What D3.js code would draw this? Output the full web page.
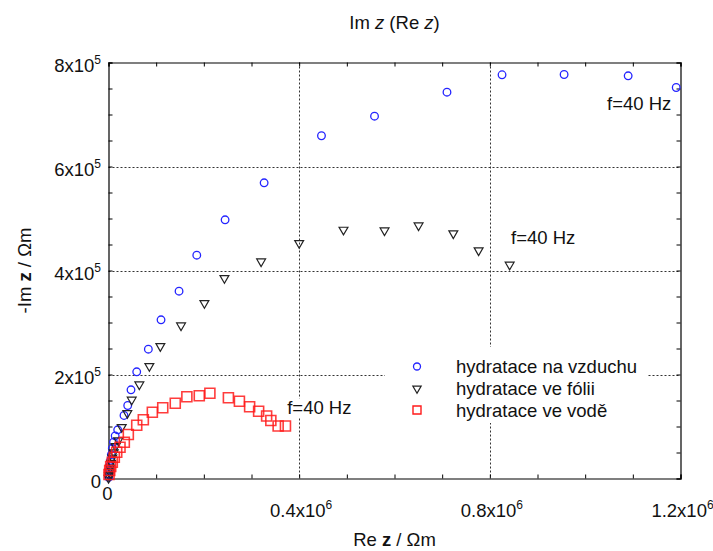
<!DOCTYPE html>
<html>
<head>
<meta charset="utf-8">
<script src="https://cdn.jsdelivr.net/npm/d3@7"></script>
<style>
  html, body { margin: 0; padding: 0; background: #fff; }
  svg text { font-family: "Liberation Sans", Arial, sans-serif; fill: #111; }
</style>
</head>
<body>
<svg id="chart" width="713" height="551"></svg>
<script>
// ---- data ----
const seriesNames = ["hydratace na vzduchu", "hydratace ve fólii", "hydratace ve vodě"];

const airRe = [300, 1000, 2000, 3000, 4500, 6000, 8000, 10500, 14000, 19300, 32500, 40300, 47200, 59200, 83600, 110200, 148000, 185200, 244600, 326500, 446800, 558100, 710100, 825600, 955800, 1090200, 1191000];
const airIm = [2000, 8000, 16000, 25000, 35000, 46000, 58000, 70000, 82000, 93700, 121200, 140400, 170600, 205200, 248700, 305200, 360200, 429400, 497500, 568700, 659100, 696700, 742900, 776400, 776900, 774400, 751900];

const foilRe = [200, 900, 2000, 3500, 5500, 8000, 11000, 15000, 20600, 27700, 39500, 48700, 64700, 85700, 108800, 152200, 201200, 243200, 320200, 400000, 493000, 579100, 650500, 723400, 776500, 841600];
const foilIm = [1000, 6000, 13000, 21000, 30000, 40000, 50000, 62000, 73100, 98700, 125600, 151400, 180800, 216000, 254400, 294200, 337100, 385200, 417300, 452500, 478300, 476900, 486500, 471200, 438500, 411000];

const waterRe = [1050, 2520, 4620, 7980, 12180, 17220, 24150, 33180, 41570, 59210, 73070, 91970, 113800, 140050, 164410, 190440, 212700, 251540, 274640, 296060, 314960, 331750, 340570, 355900, 371230];
const waterIm = [7690, 15380, 23080, 31350, 40960, 50580, 60190, 69810, 84620, 102500, 113080, 127500, 135960, 144810, 157110, 159040, 164040, 155190, 148650, 138080, 129420, 120190, 111540, 100960, 100960];

const xTickValues = [0, 400000, 800000, 1200000];
const xTickBase = ["0", "0.4x10", "0.8x10", "1.2x10"];
const xTickExp = ["", "6", "6", "6"];
const yTickValues = [0, 200000, 400000, 600000, 800000];
const yTickBase = ["0", "2x10", "4x10", "6x10", "8x10"];
const yTickExp = ["", "5", "5", "5", "5"];

const annotText = "f=40 Hz";
const annotRe = [1046000, 844600, 374900];
const annotIm = [707700, 451900, 125000];

// ---- layout ----
const FS = 18.5;
const L = 108.5, R = 680.5, T = 62.5, B = 478.5;
const svg = d3.select("#chart");
const x = d3.scaleLinear().domain([0, 1200000]).range([L, R]);
const y = d3.scaleLinear().domain([0, 800000]).range([B, T]);

// gridlines
const grid = svg.append("g").attr("stroke", "#333").attr("stroke-width", 1).attr("stroke-dasharray", "2,2");
grid.selectAll("line.gx").data(xTickValues.filter(v => v > 0 && v < 1200000)).join("line")
  .attr("x1", d => Math.round(x(d)) + 0.5).attr("x2", d => Math.round(x(d)) + 0.5)
  .attr("y1", T).attr("y2", B);
grid.selectAll("line.gy").data(yTickValues.filter(v => v > 0 && v < 800000)).join("line")
  .attr("y1", d => Math.round(y(d)) + 0.5).attr("y2", d => Math.round(y(d)) + 0.5)
  .attr("x1", L).attr("x2", R);

// axes with inward ticks on all sides
const xMinor = d3.range(0, 1200001, 100000);
const yMinor = d3.range(0, 800001, 50000);
const tickLen = 4;
const axB = svg.append("g").attr("transform", `translate(0,${B})`)
  .call(d3.axisBottom(x).tickValues(xMinor).tickSize(-tickLen).tickFormat(""));
const axT = svg.append("g").attr("transform", `translate(0,${T})`)
  .call(d3.axisTop(x).tickValues(xMinor).tickSize(-tickLen).tickFormat(""));
const axLft = svg.append("g").attr("transform", `translate(${L},0)`)
  .call(d3.axisLeft(y).tickValues(yMinor).tickSize(-tickLen).tickFormat(""));
const axRgt = svg.append("g").attr("transform", `translate(${R},0)`)
  .call(d3.axisRight(y).tickValues(yMinor).tickSize(-tickLen).tickFormat(""));
[axB, axT, axLft, axRgt].forEach(a => {
  a.selectAll("path.domain").attr("stroke", "#000").attr("stroke-width", 1.2);
  a.selectAll(".tick line").attr("stroke", "#000").attr("stroke-width", 1);
});

// tick labels
const yl = svg.append("g").attr("font-size", FS);
yTickValues.forEach((v, i) => {
  const t = yl.append("text").attr("x", 101).attr("y", y(v) + 9.5).attr("text-anchor", "end");
  t.append("tspan").text(yTickBase[i]);
  if (yTickExp[i]) t.append("tspan").attr("dy", -8).attr("font-size", 12).text(yTickExp[i]);
});
const xl = svg.append("g").attr("font-size", FS);
xTickValues.forEach((v, i) => {
  const t = xl.append("text").attr("x", x(v) + (i === 0 ? -1 : 2)).attr("y", i === 0 ? 500 : 517).attr("text-anchor", "middle");
  t.append("tspan").text(xTickBase[i]);
  if (xTickExp[i]) t.append("tspan").attr("dy", -8).attr("font-size", 12).text(xTickExp[i]);
});

// titles
const title = svg.append("text").attr("x", (L + R) / 2).attr("y", 29).attr("text-anchor", "middle").attr("font-size", FS);
title.append("tspan").text("Im ");
title.append("tspan").attr("font-style", "italic").text("z");
title.append("tspan").text(" (Re ");
title.append("tspan").attr("font-style", "italic").text("z");
title.append("tspan").text(")");

const xt = svg.append("text").attr("x", (L + R) / 2).attr("y", 546).attr("text-anchor", "middle").attr("font-size", FS);
xt.append("tspan").text("Re ");
xt.append("tspan").attr("font-weight", "bold").text("z");
xt.append("tspan").text(" / Ωm");

const yt = svg.append("text").attr("transform", `translate(31,${(T + B) / 2}) rotate(-90)`).attr("text-anchor", "middle").attr("font-size", FS);
yt.append("tspan").text("-Im ");
yt.append("tspan").attr("font-weight", "bold").text("z");
yt.append("tspan").text(" / Ωm");

// markers
const triPath = d3.symbol().type(d3.symbolTriangle).size(34)();
const sqPath = d3.symbol().type(d3.symbolSquare).size(100)();

const airPts = airRe.map((v, i) => [v, airIm[i]]);
const foilPts = foilRe.map((v, i) => [v, foilIm[i]]);
const waterPts = waterRe.map((v, i) => [v, waterIm[i]]);

svg.append("g").selectAll("circle").data(airPts).join("circle")
  .attr("cx", d => x(d[0])).attr("cy", d => y(d[1])).attr("r", 3.8)
  .attr("fill", "none").attr("stroke", "#2424ff").attr("stroke-width", 1.3);

svg.append("g").selectAll("path").data(foilPts).join("path")
  .attr("d", triPath)
  .attr("transform", d => `translate(${x(d[0])},${y(d[1])}) rotate(180)`)
  .attr("fill", "none").attr("stroke", "#222").attr("stroke-width", 1.2);

svg.append("g").selectAll("path").data(waterPts).join("path")
  .attr("d", sqPath)
  .attr("transform", d => `translate(${x(d[0])},${y(d[1])})`)
  .attr("fill", "none").attr("stroke", "#ff1a1a").attr("stroke-opacity", 0.85).attr("stroke-width", 1.6);

// annotations
const ann = svg.append("g").attr("font-size", FS);
annotRe.forEach((v, i) => {
  if (i === 2) {
    ann.append("rect").attr("x", x(v) - 1).attr("y", y(annotIm[i]) - 15).attr("width", 68).attr("height", 19).attr("fill", "#fff");
  }
  ann.append("text").attr("x", x(v)).attr("y", y(annotIm[i])).text(annotText);
});

// legend
const lg = svg.append("g");
lg.append("rect").attr("x", 385).attr("y", 347).attr("width", 263).attr("height", 76).attr("fill", "#fff");
const lgY = [366.5, 388.5, 410];
lg.append("circle").attr("cx", 417).attr("cy", lgY[0]).attr("r", 3.5)
  .attr("fill", "none").attr("stroke", "#2424ff").attr("stroke-width", 1.3);
lg.append("path").attr("d", d3.symbol().type(d3.symbolTriangle).size(30)())
  .attr("transform", `translate(417,${lgY[1]}) rotate(180)`)
  .attr("fill", "none").attr("stroke", "#222").attr("stroke-width", 1.2);
lg.append("path").attr("d", d3.symbol().type(d3.symbolSquare).size(64)())
  .attr("transform", `translate(417,${lgY[2]})`)
  .attr("fill", "none").attr("stroke", "#ff1a1a").attr("stroke-width", 1.4);
seriesNames.forEach((n, i) => {
  lg.append("text").attr("x", 456).attr("y", lgY[i] + 6.5).attr("font-size", FS).text(n);
});
</script>
</body>
</html>
